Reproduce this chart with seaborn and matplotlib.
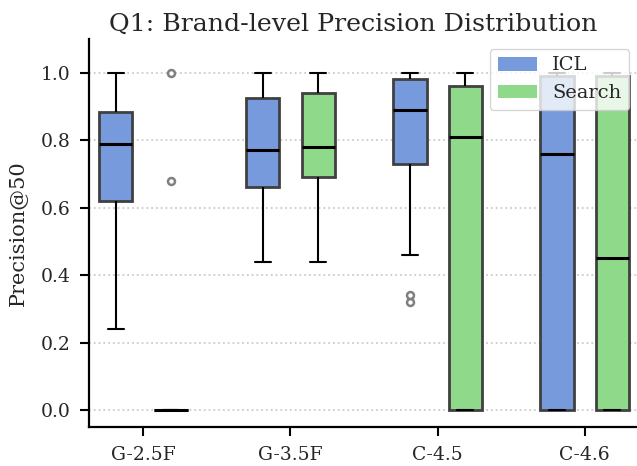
import pandas as pd
import matplotlib
matplotlib.use("Agg")
import matplotlib.pyplot as plt
import seaborn as sns
from matplotlib.patches import Patch

# ------------------------ DATA ------------------------
models = ["G-2.5F", "G-3.5F", "C-4.5", "C-4.6"]
methods = ["ICL", "Search"]

icl_g25 = [0.24, 0.45, 0.58, 0.62, 0.68, 0.74, 0.79, 0.82, 0.86, 0.885, 0.92, 0.96, 1.0]
search_g25 = [0.0, 0.0, 0.0, 0.0, 0.0, 0.0, 0.0, 0.0, 0.0, 0.0, 0.0, 0.68, 1.0]
icl_g35 = [0.44, 0.55, 0.62, 0.66, 0.70, 0.74, 0.77, 0.82, 0.88, 0.925, 0.96, 0.98, 1.0]
search_g35 = [0.44, 0.58, 0.65, 0.69, 0.72, 0.75, 0.78, 0.84, 0.90, 0.94, 0.97, 0.99, 1.0]
icl_c45 = [0.32, 0.34, 0.46, 0.73, 0.78, 0.84, 0.89, 0.92, 0.95, 0.98, 0.99, 1.0, 1.0]
search_c45 = [0.0, 0.0, 0.0, 0.0, 0.35, 0.62, 0.81, 0.88, 0.92, 0.96, 0.98, 1.0, 1.0]
icl_c46 = [0.0, 0.0, 0.0, 0.0, 0.20, 0.50, 0.76, 0.85, 0.92, 0.99, 1.0, 1.0, 1.0]
search_c46 = [0.0, 0.0, 0.0, 0.0, 0.10, 0.30, 0.45, 0.65, 0.85, 0.99, 1.0, 1.0, 1.0]

series = {
    ("G-2.5F", "ICL"): icl_g25, ("G-2.5F", "Search"): search_g25,
    ("G-3.5F", "ICL"): icl_g35, ("G-3.5F", "Search"): search_g35,
    ("C-4.5", "ICL"): icl_c45, ("C-4.5", "Search"): search_c45,
    ("C-4.6", "ICL"): icl_c46, ("C-4.6", "Search"): search_c46,
}

rows = []
for (m, meth), vals in series.items():
    for v in vals:
        rows.append({"model": m, "method": meth, "precision": v})
df = pd.DataFrame(rows)

# muted blue / green blended at 75% over white
colors = {"ICL": "#769adc", "Search": "#8fd98b"}

# ------------------------ PLOT ------------------------
sns.set_style("ticks")
plt.rcParams['font.family'] = ['DejaVu Serif']

fig = plt.figure(figsize=(6.37, 4.66), dpi=100)
ax = fig.add_axes([89 / 637, 39 / 466, 550 / 637, 388 / 466])

sns.boxplot(
    data=df, x="model", y="precision", hue="method",
    order=models, hue_order=methods, palette=colors,
    saturation=1, width=0.75, gap=0.4, linecolor="#404040", linewidth=2,
    medianprops={"color": "black", "linewidth": 2.2},
    whiskerprops={"color": "black", "linewidth": 1.5},
    capprops={"color": "black", "linewidth": 1.5},
    flierprops={"marker": "o", "markersize": 5, "markerfacecolor": "white",
                "markeredgecolor": "#808080", "markeredgewidth": 1.8},
    legend=False, ax=ax,
)

ax.set_ylim(-0.05, 1.1)
ax.set_xlim(-0.37, 3.37)
ax.set_yticks([0.0, 0.2, 0.4, 0.6, 0.8, 1.0])
ax.set_yticklabels(["0.0", "0.2", "0.4", "0.6", "0.8", "1.0"])
ax.yaxis.grid(True, linestyle=":", color="#cccccc", linewidth=1.3)
ax.set_axisbelow(True)
ax.tick_params(axis="both", labelsize=13.5, width=1.5, length=6.5, pad=7, color="black")
for s in ["left", "bottom"]:
    ax.spines[s].set_linewidth(1.6)
    ax.spines[s].set_color("black")
sns.despine(ax=ax)

ax.set_xlabel("")
ax.set_ylabel("Precision@50", fontsize=15)
ax.yaxis.set_label_coords(-0.111, 0.5)
ax.set_title("Q1: Brand-level Precision Distribution", fontsize=18.2, x=0.48)

handles = [Patch(facecolor=colors[m], edgecolor="none", label=m) for m in methods]
ax.legend(handles=handles, loc="upper right", fontsize=14, framealpha=0.8,
          borderaxespad=0.5, handlelength=2.0)

fig.savefig("out.png", dpi=100)
